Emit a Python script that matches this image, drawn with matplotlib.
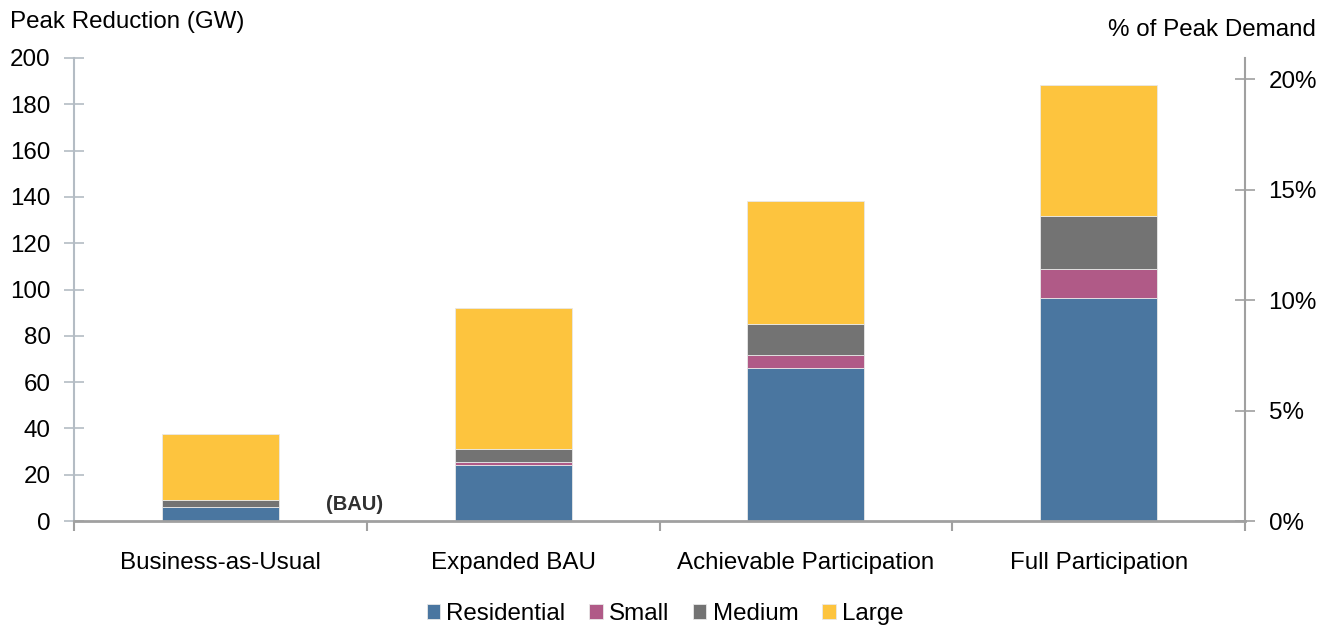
import matplotlib.pyplot as plt
from matplotlib.ticker import FuncFormatter
import numpy as np

plt.rcParams['font.family'] = ['Liberation Sans', 'DejaVu Sans']

# data (GW)
categories = ["Business-as-Usual", "Expanded BAU", "Achievable Participation", "Full Participation"]
residential = [6.2, 24.3, 65.9, 96.5]
small = [0.0, 1.2, 5.9, 12.2]
medium = [2.9, 5.6, 13.3, 23.2]
large = [28.5, 60.9, 53.1, 56.4]
series_names = ["Residential", "Small", "Medium", "Large"]
colors = ["#4a76a0", "#b05a87", "#737373", "#fdc43e"]

# GW that corresponds to 20% of peak demand
gw_at_20pct = 190.9

fs = 17.4

fig = plt.figure(figsize=(13.28, 6.27), dpi=100)
ax = fig.add_axes([74 / 1328, 106 / 627, (1245 - 74) / 1328, (521 - 58) / 627])

x = np.arange(len(categories))
bottom = np.zeros(len(categories))
for name, vals, c in zip(series_names, [residential, small, medium, large], colors):
    ax.bar(x, vals, width=0.4, bottom=bottom, color=c, edgecolor='#e8e8e8',
           linewidth=0.6, label=name)
    bottom += np.array(vals)

ax.set_xlim(-0.5, 3.5)
ax.set_ylim(0, 200)
ax.set_yticks(np.arange(0, 201, 20))

# category labels, boundary ticks
ax.set_xticks(x)
ax.set_xticklabels(categories, fontsize=fs)
ax.tick_params(axis='x', which='major', length=0, pad=22)
ax.set_xticks(np.arange(-0.5, 4, 1), minor=True)
ax.tick_params(axis='x', which='minor', length=7, width=1.5, color='#a0a0a0', direction='out')

ax.tick_params(axis='y', length=14, width=1.2, direction='inout', color='#b4bcc4',
               labelsize=fs, pad=10)

for s in ['top', 'right']:
    ax.spines[s].set_visible(False)
ax.spines['left'].set_color('#b4bcc4')
ax.spines['left'].set_linewidth(1.5)
ax.spines['bottom'].set_color('#a0a0a0')
ax.spines['bottom'].set_linewidth(2)

# right axis: % of peak demand
ax2 = ax.twinx()
ax2.set_ylim(0, 200 * 20 / gw_at_20pct)
ax2.set_yticks([0, 5, 10, 15, 20])
ax2.yaxis.set_major_formatter(FuncFormatter(lambda v, p: f"{v:.0f}%"))
ax2.tick_params(axis='y', length=14, width=1.2, direction='inout', color='#a0a0a0',
                labelsize=fs, pad=10)
for s in ['top', 'left', 'bottom']:
    ax2.spines[s].set_visible(False)
ax2.spines['right'].set_color('#a0a0a0')
ax2.spines['right'].set_linewidth(1.5)

ax.text(0.46, 7, "(BAU)", ha='center', va='center', fontsize=14.5, fontweight='bold',
        color='#303030')

fig.text(10 / 1328, 1 - 22 / 627, "Peak Reduction (GW)", ha='left', va='center', fontsize=fs)
fig.text(1316 / 1328, 1 - 30 / 627, "% of Peak Demand", ha='right', va='center', fontsize=fs)

fig.legend(loc='center', bbox_to_anchor=(665 / 1328, 1 - 614 / 627), ncol=4, frameon=False,
           fontsize=fs, handlelength=0.55, handleheight=0.55, handletextpad=0.25,
           columnspacing=1.0)

plt.savefig("out.png", dpi=100)
plt.close()
